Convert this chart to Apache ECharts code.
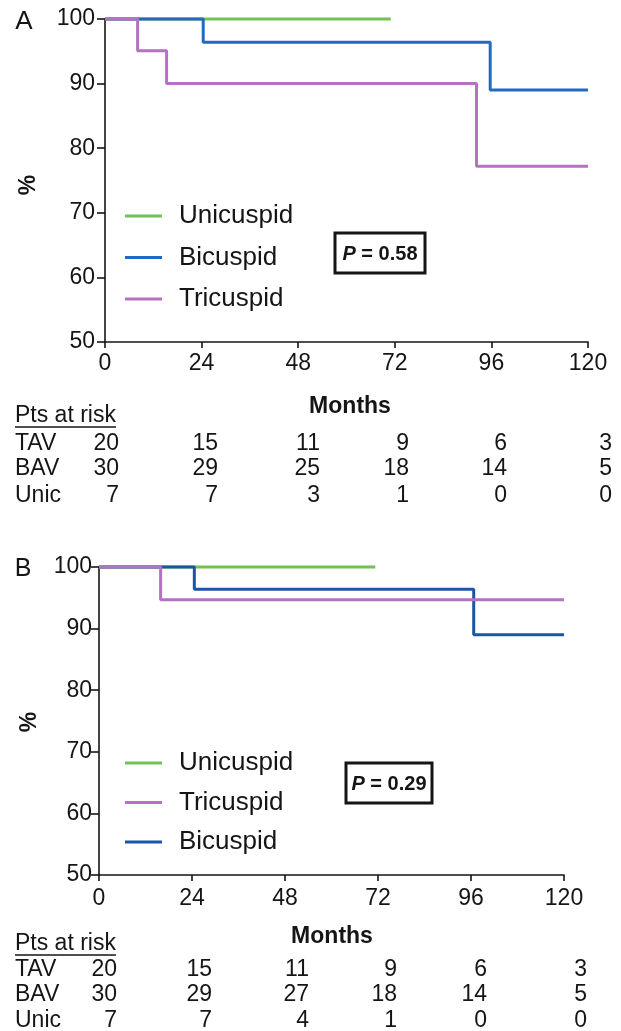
<!DOCTYPE html>
<html><head><meta charset="utf-8">
<script src="https://cdn.jsdelivr.net/npm/echarts@6/dist/echarts.min.js"></script>
<style>html,body{margin:0;padding:0;background:#fff}#c{width:621px;height:1031px}</style>
</head><body><div id="c"></div>
<script>
// ---- data ----
const uniA = [[0,100],[71,100]];
const biA  = [[0,100],[24.4,96.4],[95.7,89.0],[120,89.0]];
const triA = [[0,100],[8.1,95.1],[15.3,90.0],[92.3,77.2],[120,77.2]];
const uniB = [[0,100],[71.3,100]];
const triB = [[0,100],[15.9,94.7],[120,94.7]];
const biB  = [[0,100],[24.6,96.4],[96.7,89.0],[120,89.0]];
const riskRowLabels = ['TAV','BAV','Unic'];
const riskA_TAV = [20,15,11,9,6,3];
const riskA_BAV = [30,29,25,18,14,5];
const riskA_Unic = [7,7,3,1,0,0];
const riskB_TAV = [20,15,11,9,6,3];
const riskB_BAV = [30,29,27,18,14,5];
const riskB_Unic = [7,7,4,1,0,0];
const pA = '0.58', pB = '0.29';

// ---- layout / style ----
const FONT = '"Liberation Sans", Arial, Helvetica, sans-serif';
const INK = '#151515';
const C_GREEN = '#6ec352', C_BLUE = '#2468c0', C_BLUE2 = '#1a55a6', C_PURPLE = '#b572c2';
const layA = {colX:[119,218,320,409,507,612], rowY:[444,469,496], titleY:416, ulY:427, monthsX:350, monthsY:407};
const layB = {colX:[117,212,309,397,487,587], rowY:[970,995,1021], titleY:944, ulY:955, monthsX:332, monthsY:937};

const chart = echarts.init(document.getElementById('c'), null, {renderer:'canvas'});

function xAx(gi, margin){
  return {type:'value', gridIndex:gi, min:0, max:120, interval:24,
    axisLine:{show:true, onZero:false, lineStyle:{color:INK, width:1.6}},
    axisTick:{show:true, length:6, lineStyle:{color:INK, width:1.6}},
    axisLabel:{show:true, color:INK, fontSize:23, fontFamily:FONT, margin:margin, showMinLabel:true, showMaxLabel:true},
    splitLine:{show:false}};
}
function yAx(gi, margin){
  return {type:'value', gridIndex:gi, min:50, max:100, interval:10,
    axisLine:{show:true, onZero:false, lineStyle:{color:INK, width:1.6}},
    axisTick:{show:true, length:8, lineStyle:{color:INK, width:1.6}},
    axisLabel:{show:true, color:INK, fontSize:23, fontFamily:FONT, margin:margin, showMinLabel:true, showMaxLabel:true},
    splitLine:{show:false}};
}
function km(name, data, gi, color, z){
  return {type:'line', name:name, data:data, xAxisIndex:gi, yAxisIndex:gi, step:'end',
    showSymbol:false, symbol:'none', clip:false, z:z, animation:false,
    lineStyle:{color:color, width:3}, itemStyle:{color:color}};
}
function legendFor(top, gap, items){
  return {orient:'vertical', left:125, top:top, padding:0, icon:'rect', itemWidth:37, itemHeight:3, itemGap:gap,
    selectedMode:false, data:items,
    textStyle:{color:INK, fontSize:26, fontFamily:FONT, padding:[0,0,0,12]}};
}
function tableGraphics(lay, rows){
  const g = [];
  g.push({type:'text', x:15, y:lay.titleY, style:{text:'Pts at risk', fontSize:23, fontFamily:FONT, fill:INK, align:'left', verticalAlign:'middle'}});
  g.push({type:'line', shape:{x1:15, y1:lay.ulY, x2:116, y2:lay.ulY}, style:{stroke:INK, lineWidth:1.4}});
  g.push({type:'text', x:lay.monthsX, y:lay.monthsY, style:{text:'Months', fontSize:23, fontWeight:'bold', fontFamily:FONT, fill:INK, align:'center', verticalAlign:'middle'}});
  rows.forEach((vals, r) => {
    g.push({type:'text', x:15, y:lay.rowY[r], style:{text:riskRowLabels[r], fontSize:23, fontFamily:FONT, fill:INK, align:'left', verticalAlign:'middle'}});
    vals.forEach((v, i) => {
      g.push({type:'text', x:lay.colX[i], y:lay.rowY[r], style:{text:String(v), fontSize:23, fontFamily:FONT, fill:INK, align:'right', verticalAlign:'middle'}});
    });
  });
  return g;
}
function pBox(x, y, w, h, p){
  return [
    {type:'rect', shape:{x:x, y:y, width:w, height:h}, style:{fill:'#fff', stroke:INK, lineWidth:3}, z:50},
    {type:'text', x:x + w/2, y:y + h/2 + 1, z:51, style:{text:'{p|P}{v| = ' + p + '}', align:'center', verticalAlign:'middle',
      rich:{p:{fontSize:20, fontWeight:'bold', fontStyle:'italic', fontFamily:FONT, fill:INK},
            v:{fontSize:20, fontWeight:'bold', fontFamily:FONT, fill:INK}}}}
  ];
}

const graphics = [].concat(
  [{type:'text', x:24, y:22, style:{text:'A', fontSize:26, fontFamily:FONT, fill:INK, align:'center', verticalAlign:'middle'}},
   {type:'text', x:23, y:569, style:{text:'B', fontSize:25, fontFamily:FONT, fill:INK, align:'center', verticalAlign:'middle'}},
   {type:'text', x:29, y:185, rotation:Math.PI/2, style:{text:'%', fontSize:23, fontWeight:'bold', fontFamily:FONT, fill:INK, align:'center', verticalAlign:'middle'}},
   {type:'text', x:30, y:722, rotation:Math.PI/2, style:{text:'%', fontSize:23, fontWeight:'bold', fontFamily:FONT, fill:INK, align:'center', verticalAlign:'middle'}}],
  pBox(335, 233, 90, 40, pA),
  pBox(346, 763, 86, 40, pB),
  tableGraphics(layA, [riskA_TAV, riskA_BAV, riskA_Unic]),
  tableGraphics(layB, [riskB_TAV, riskB_BAV, riskB_Unic])
);

chart.setOption({
  animation:false,
  backgroundColor:'#fff',
  textStyle:{fontFamily:FONT},
  grid:[
    {left:105, right:33, top:19, height:323, containLabel:false, outerBoundsMode:'none'},
    {left:99, right:57, top:567, height:308, containLabel:false, outerBoundsMode:'none'}
  ],
  xAxis:[xAx(0, 10), xAx(1, 12)],
  yAxis:[yAx(0, 10), yAx(1, 7)],
  legend:[
    legendFor(203, 15.5, [{name:'Unicuspid', itemStyle:{color:C_GREEN}}, {name:'Bicuspid', itemStyle:{color:C_BLUE}}, {name:'Tricuspid', itemStyle:{color:C_PURPLE}}]),
    legendFor(750, 13.5, [{name:'Unicuspid', itemStyle:{color:C_GREEN}}, {name:'Tricuspid', itemStyle:{color:C_PURPLE}}, {name:'Bicuspid', itemStyle:{color:C_BLUE2}}])
  ],
  series:[
    km('Unicuspid', uniA, 0, C_GREEN, 2),
    km('Bicuspid', biA, 0, C_BLUE, 3),
    km('Tricuspid', triA, 0, C_PURPLE, 4),
    km('Unicuspid', uniB, 1, C_GREEN, 2),
    km('Bicuspid', biB, 1, C_BLUE2, 3),
    km('Tricuspid', triB, 1, C_PURPLE, 4)
  ],
  graphic:graphics
});
</script></body></html>
